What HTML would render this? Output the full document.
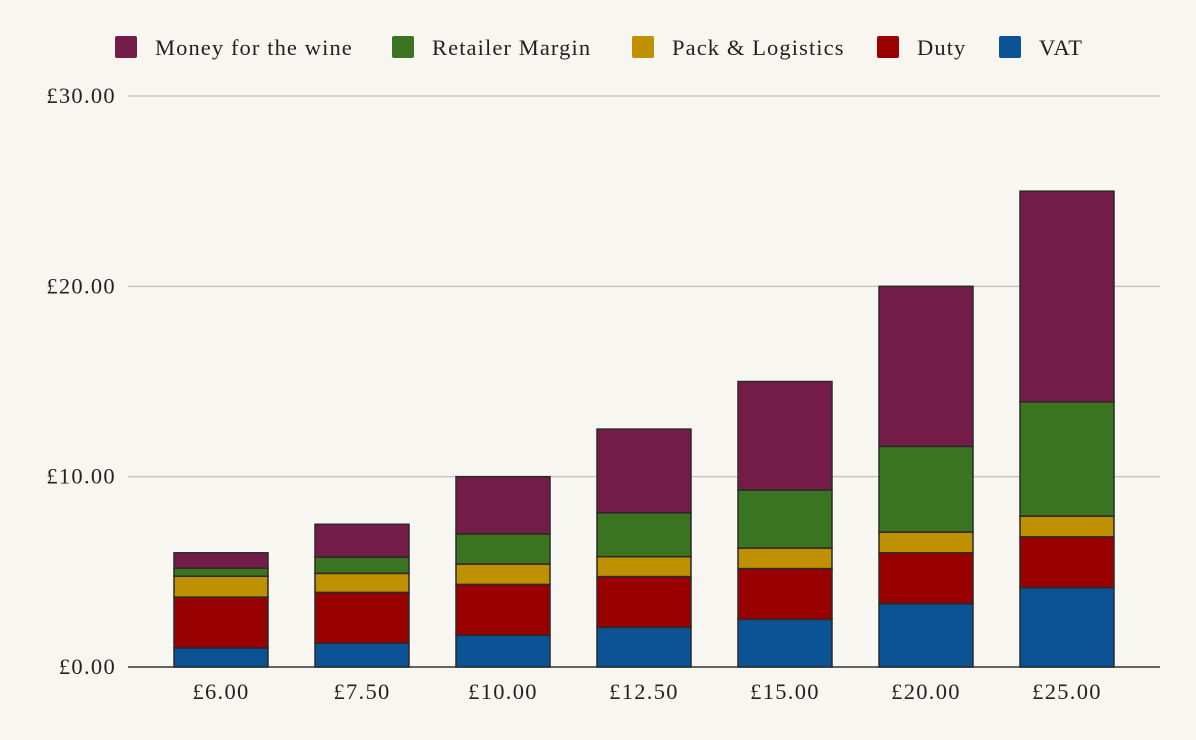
<!DOCTYPE html>
<html><head><meta charset="utf-8"><style>
body{margin:0;background:#f8f6f1;}
svg{display:block;font-family:"Liberation Serif",serif;}
</style></head><body>
<svg id="c" width="1196" height="740"></svg>
<script>
const categories=["£6.00","£7.50","£10.00","£12.50","£15.00","£20.00","£25.00"];
const vat=[1.00,1.25,1.67,2.08,2.50,3.33,4.17];
const duty=[2.67,2.67,2.67,2.67,2.67,2.67,2.67];
const pack=[1.10,1.00,1.07,1.05,1.08,1.09,1.09];
const margin=[0.42,0.85,1.58,2.30,3.05,4.50,6.00];
const wine=[0.81,1.73,3.01,4.40,5.70,8.41,11.07];
const yTicks=[0,10,20,30];
const yTickLabels=["£0.00","£10.00","£20.00","£30.00"];
const seriesNames=["VAT","Duty","Pack & Logistics","Retailer Margin","Money for the wine"];
const seriesColors=["#0b5394","#990000","#bf9000","#3a7421","#731c47"];
const series=[vat,duty,pack,margin,wine];

const NS="http://www.w3.org/2000/svg";
const svg=document.getElementById('c');
const L=128,R=1160,T=96,B=667,ymax=30;
const y=v=>B-(v/ymax)*(B-T);
const x=i=>221+141*i;
function mk(tag,attrs,parent){const e=document.createElementNS(NS,tag);for(const k in attrs)e.setAttribute(k,attrs[k]);(parent||svg).appendChild(e);return e;}

yTicks.forEach((t,i)=>{
  const g=mk('line',{x1:L,x2:R,y1:y(t),y2:y(t),stroke:t===0?'#333':'#c8c6c0','stroke-width':1.5});
  
  
  const tx=mk('text',{x:116,y:y(t)+7,'text-anchor':'end','font-size':22.5,'letter-spacing':1.3,fill:'#222'});
  tx.textContent=yTickLabels[i];
  
  
});

categories.forEach((c,i)=>{
  let cum=0;
  const w=94;
  series.forEach((s,j)=>{
    const v=s[i];
    const r=mk('rect',{x:x(i)-w/2,y:y(cum+v),width:w,height:y(cum)-y(cum+v),fill:seriesColors[j],stroke:'#2a2a2a','stroke-width':1.5});
    
    
    cum+=v;
  });
  const tx=mk('text',{x:x(i),y:699,'text-anchor':'middle','font-size':22.5,'letter-spacing':1.3,fill:'#222'});
  tx.textContent=c;
  
  
});

const legend=[[115,"Money for the wine",4],[392,"Retailer Margin",3],[632,"Pack & Logistics",2],[877,"Duty",1],[999,"VAT",0]];
legend.forEach(([lx,name,ci])=>{
  const r=mk('rect',{x:lx,y:36,width:22,height:22,rx:2,fill:seriesColors[ci]});
  
  
  const t=mk('text',{x:lx+40,y:55,'font-size':22.5,'letter-spacing':1.1,fill:'#222'});
  t.textContent=name;
  
  
});
</script>
</body></html>
